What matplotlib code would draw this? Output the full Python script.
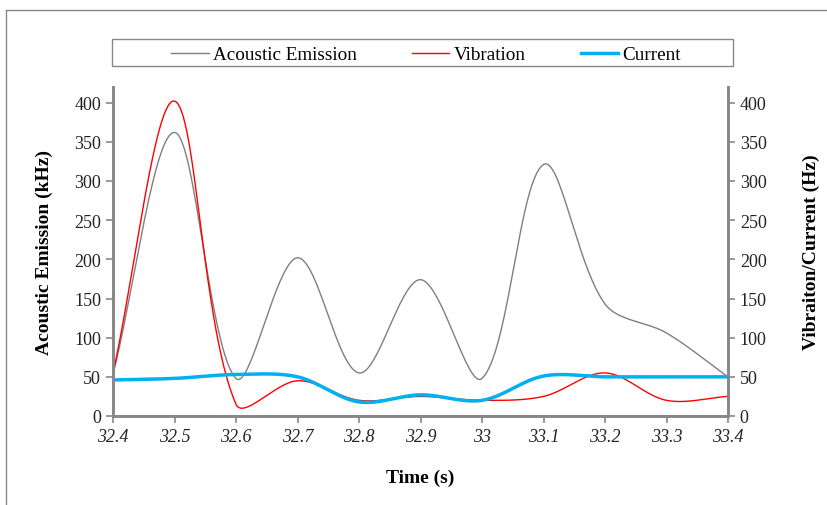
import numpy as np
import matplotlib
matplotlib.use("Agg")
import matplotlib.pyplot as plt
from matplotlib.lines import Line2D
from matplotlib.patches import Rectangle

time = [32.4, 32.5, 32.6, 32.7, 32.8, 32.9, 33.0, 33.1, 33.2, 33.3, 33.4]
acoustic = [53, 362, 48, 202, 55, 174, 48, 321, 143, 106, 50]
vibration = [55, 402, 15, 45, 20, 25, 20, 25, 55, 20, 25]
current = [46, 48, 53, 50, 18, 27, 20, 51, 50, 50, 50]

XPX = 615.0   # pixels per x-range (for shape of smoothing only)
YPX = 329.0 / 420.0


def smooth(x, y, n=60):
    """Bezier smoothing with length-proportional tangents (Excel-like)."""
    x = np.asarray(x, float)
    y = np.asarray(y, float)
    P = np.column_stack([(x - x[0]) * XPX, y * YPX])
    m = len(P)
    d = np.hypot(*np.diff(P, axis=0).T)
    cout = np.zeros_like(P)
    cin = np.zeros_like(P)
    for i in range(m):
        if i == 0:
            T = P[1] - P[0]
            cout[i] = P[i] + T / 3
            continue
        if i == m - 1:
            T = P[-1] - P[-2]
            cin[i] = P[i] - T / 3
            continue
        T = P[i + 1] - P[i - 1]
        dp, dn = d[i - 1], d[i]
        cin[i] = P[i] - T * dp / (dp + dn) / 3
        cout[i] = P[i] + T * dn / (dp + dn) / 3
    pts = []
    t = np.linspace(0, 1, n, endpoint=False)[:, None]
    for i in range(m - 1):
        p0, p1, p2, p3 = P[i], cout[i], cin[i + 1], P[i + 1]
        pts.append((1 - t) ** 3 * p0 + 3 * (1 - t) ** 2 * t * p1
                   + 3 * (1 - t) * t ** 2 * p2 + t ** 3 * p3)
    pts.append(P[-1:])
    pts = np.vstack(pts)
    return pts[:, 0] / XPX + x[0], pts[:, 1] / YPX


plt.rcParams['font.family'] = ['Liberation Serif', 'DejaVu Serif']
W, H = 827, 506
fig = plt.figure(figsize=(W / 100, H / 100), dpi=100)

# outer frame lines (partially visible chart border)
fig.add_artist(Line2D([6 / W, 6 / W], [0, 1 - 11 / H], color='#888888', lw=1))
fig.add_artist(Line2D([6 / W, 1], [1 - 11 / H, 1 - 11 / H], color='#888888', lw=1))

left, right, top, bottom = 113, 728, 88, 417
ax = fig.add_axes([left / W, 1 - bottom / H, (right - left) / W, (bottom - top) / H])
ax2 = ax.twinx()

spine_c = '#888888'
ax.plot(*smooth(time, acoustic), color='#7f7f7f', lw=1.0)
ax2.plot(*smooth(time, vibration), color='#ff0000', lw=1.0)
ax2.plot(*smooth(time, current), color='#00b0f0', lw=2.5)

for a in (ax, ax2):
    a.set_xlim(32.4, 33.4)
    a.set_ylim(0, 420)
    a.set_yticks(np.arange(0, 401, 50))
    a.spines['top'].set_visible(False)
    for s in ('left', 'right', 'bottom'):
        a.spines[s].set_color(spine_c)
        a.spines[s].set_linewidth(2)
    a.tick_params(colors=spine_c, labelcolor='#222222', labelsize=13,
                  length=5, width=1.2, direction='out')

xt = np.round(np.arange(32.4, 33.41, 0.1), 1)
ax.set_xticks(xt)
ax.set_xticklabels([('%g' % v) for v in xt], style='italic')
ax.set_xlabel('Time (s)', fontsize=14, fontweight='bold', labelpad=17)
ax.set_ylabel('Acoustic Emission (kHz)', fontsize=14, fontweight='bold', labelpad=15)
ax2.set_ylabel('Vibraiton/Current (Hz)', fontsize=14, fontweight='bold', labelpad=26)

# legend
fig.add_artist(Rectangle((112 / W, 1 - 67 / H), (733 - 112) / W, 27 / H,
                         transform=fig.transFigure, fill=False,
                         edgecolor='#888888', lw=1.0))
handles = [Line2D([], [], color='#7f7f7f', lw=1.0),
           Line2D([], [], color='#ff0000', lw=1.0),
           Line2D([], [], color='#00b0f0', lw=2.5)]
leg = fig.legend(handles, ['Acoustic Emission', 'Vibration', 'Current'],
                 loc='center', bbox_to_anchor=(426 / W, 1 - 55.5 / H),
                 ncol=3, frameon=False,
                 fontsize=13.8, handlelength=1.95, handletextpad=0.2,
                 borderpad=0.2, columnspacing=2.9)

fig.savefig('out.png', dpi=100)
